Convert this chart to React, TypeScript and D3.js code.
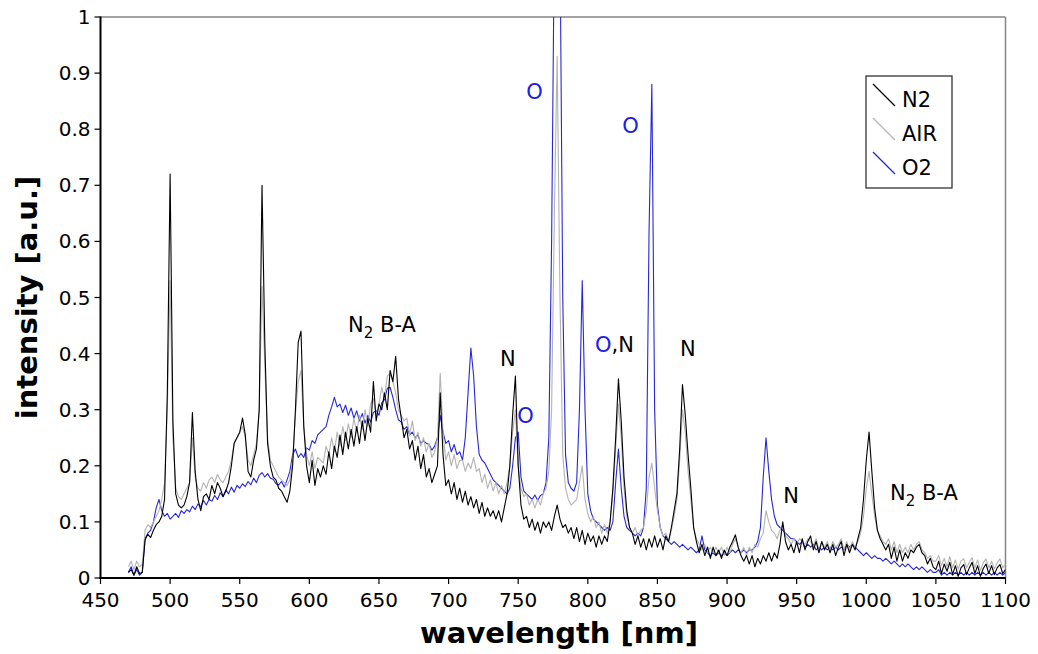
import React from 'react';
import * as d3 from 'd3';

const wavelengths = d3.range(470, 1101, 2);

const n2Values = [
  0.01, 0.015, 0.005, 0.02, 0.008, 0.01, 0.068, 0.078, 0.072, 0.085,
  0.095, 0.1, 0.11, 0.14, 0.33, 0.72, 0.28, 0.15, 0.13, 0.125,
  0.13, 0.145, 0.17, 0.295, 0.19, 0.14, 0.12, 0.145, 0.15, 0.14,
  0.165, 0.15, 0.17, 0.16, 0.145, 0.155, 0.17, 0.2, 0.24, 0.25,
  0.26, 0.285, 0.255, 0.19, 0.18, 0.21, 0.23, 0.3, 0.70, 0.42,
  0.24, 0.2, 0.18, 0.175, 0.16, 0.155, 0.145, 0.135, 0.155, 0.2,
  0.3, 0.42, 0.44, 0.27, 0.2, 0.17, 0.21, 0.165, 0.195, 0.18,
  0.2, 0.185, 0.225, 0.195, 0.235, 0.215, 0.255, 0.22, 0.26, 0.23,
  0.265, 0.235, 0.27, 0.24, 0.28, 0.245, 0.285, 0.26, 0.35, 0.28,
  0.31, 0.3, 0.33, 0.3, 0.37, 0.35, 0.395, 0.32, 0.285, 0.25,
  0.265, 0.23, 0.245, 0.21, 0.235, 0.195, 0.22, 0.18, 0.195, 0.17,
  0.185, 0.2, 0.33, 0.22, 0.165, 0.175, 0.15, 0.17, 0.14, 0.16,
  0.135, 0.155, 0.13, 0.145, 0.125, 0.14, 0.115, 0.135, 0.11, 0.125,
  0.11, 0.12, 0.105, 0.12, 0.1, 0.125, 0.15, 0.2, 0.29, 0.36,
  0.2, 0.13, 0.105, 0.11, 0.09, 0.105, 0.085, 0.1, 0.08, 0.1,
  0.09, 0.1, 0.085, 0.11, 0.13, 0.105, 0.09, 0.095, 0.08, 0.09,
  0.07, 0.09, 0.065, 0.085, 0.06, 0.08, 0.065, 0.075, 0.055, 0.075,
  0.06, 0.075, 0.065, 0.1, 0.16, 0.25, 0.355, 0.28, 0.18, 0.12,
  0.09, 0.08, 0.06, 0.075, 0.055, 0.07, 0.05, 0.07, 0.055, 0.075,
  0.055, 0.07, 0.05, 0.075, 0.065, 0.09, 0.12, 0.15, 0.23, 0.345,
  0.29, 0.22, 0.16, 0.09, 0.065, 0.045, 0.06, 0.04, 0.055, 0.035,
  0.055, 0.04, 0.05, 0.035, 0.05, 0.04, 0.055, 0.065, 0.077, 0.055,
  0.04, 0.03, 0.04, 0.025, 0.04, 0.02, 0.035, 0.025, 0.04, 0.03,
  0.045, 0.03, 0.045, 0.035, 0.06, 0.1, 0.065, 0.05, 0.06, 0.045,
  0.065, 0.045, 0.07, 0.05, 0.065, 0.075, 0.05, 0.065, 0.045, 0.065,
  0.05, 0.06, 0.045, 0.06, 0.04, 0.055, 0.065, 0.04, 0.06, 0.045,
  0.06, 0.05, 0.07, 0.09, 0.14, 0.21, 0.26, 0.19, 0.125, 0.085,
  0.07, 0.06, 0.05, 0.06, 0.035, 0.055, 0.03, 0.05, 0.03, 0.045,
  0.035, 0.05, 0.045, 0.055, 0.06, 0.045, 0.04, 0.025, 0.035, 0.02,
  0.015, 0.03, 0.008, 0.025, 0.012, 0.028, 0.006, 0.022, 0.003, 0.018,
  0.024, 0.006, 0.018, 0.028, 0.008, 0.022, 0.003, 0.017, 0.025, 0.008,
  0.022, 0.006, 0.018, 0.024, 0.008, 0.015,
];

const airValues = [
  0.02, 0.03, 0.015, 0.03, 0.02, 0.025, 0.085, 0.095, 0.09, 0.1,
  0.11, 0.12, 0.14, 0.17, 0.3, 0.53, 0.25, 0.16, 0.145, 0.14,
  0.15, 0.16, 0.17, 0.25, 0.18, 0.16, 0.155, 0.17, 0.16, 0.175,
  0.18, 0.17, 0.185, 0.175, 0.17, 0.18, 0.19, 0.21, 0.24, 0.25,
  0.26, 0.27, 0.25, 0.21, 0.2, 0.22, 0.24, 0.3, 0.52, 0.38,
  0.25, 0.21, 0.2, 0.19, 0.18, 0.175, 0.17, 0.165, 0.175, 0.21,
  0.29, 0.35, 0.37, 0.27, 0.22, 0.2, 0.225, 0.195, 0.215, 0.21,
  0.205, 0.235, 0.22, 0.25, 0.225, 0.26, 0.235, 0.27, 0.245, 0.275,
  0.25, 0.285, 0.26, 0.29, 0.265, 0.3, 0.27, 0.31, 0.32, 0.29,
  0.31, 0.34, 0.32, 0.36, 0.365, 0.35, 0.33, 0.3, 0.29, 0.28,
  0.285, 0.255, 0.28, 0.245, 0.26, 0.235, 0.25, 0.225, 0.24, 0.215,
  0.225, 0.25, 0.365, 0.26, 0.21, 0.225, 0.2, 0.22, 0.195, 0.21,
  0.21, 0.19, 0.205, 0.195, 0.215, 0.19, 0.195, 0.17, 0.185, 0.16,
  0.175, 0.155, 0.17, 0.15, 0.165, 0.15, 0.17, 0.2, 0.26, 0.3,
  0.2, 0.16, 0.145, 0.15, 0.13, 0.14, 0.125, 0.14, 0.13, 0.15,
  0.16, 0.19, 0.3, 0.65, 0.93, 0.5, 0.22, 0.16, 0.14, 0.13,
  0.135, 0.14, 0.17, 0.2, 0.14, 0.115, 0.1, 0.11, 0.09, 0.1,
  0.08, 0.095, 0.08, 0.1, 0.15, 0.23, 0.31, 0.25, 0.16, 0.11,
  0.09, 0.08, 0.09, 0.075, 0.085, 0.09, 0.12, 0.18, 0.205, 0.16,
  0.12, 0.09, 0.075, 0.08, 0.065, 0.085, 0.11, 0.14, 0.21, 0.3,
  0.26, 0.19, 0.14, 0.09, 0.07, 0.06, 0.05, 0.06, 0.045, 0.055,
  0.045, 0.055, 0.045, 0.055, 0.04, 0.055, 0.045, 0.06, 0.07, 0.055,
  0.045, 0.055, 0.04, 0.055, 0.045, 0.06, 0.055, 0.07, 0.08, 0.12,
  0.1, 0.085, 0.08, 0.07, 0.085, 0.095, 0.075, 0.07, 0.06, 0.07,
  0.06, 0.07, 0.065, 0.06, 0.07, 0.065, 0.055, 0.07, 0.05, 0.065,
  0.055, 0.065, 0.05, 0.065, 0.055, 0.06, 0.07, 0.05, 0.065, 0.05,
  0.065, 0.055, 0.065, 0.08, 0.11, 0.16, 0.19, 0.15, 0.11, 0.085,
  0.075, 0.065, 0.06, 0.07, 0.05, 0.065, 0.045, 0.06, 0.045, 0.055,
  0.045, 0.06, 0.05, 0.06, 0.065, 0.05, 0.045, 0.035, 0.04, 0.03,
  0.03, 0.04, 0.022, 0.035, 0.02, 0.038, 0.018, 0.032, 0.016, 0.03,
  0.034, 0.018, 0.028, 0.036, 0.018, 0.032, 0.014, 0.027, 0.034, 0.018,
  0.03, 0.016, 0.027, 0.034, 0.018, 0.025,
];

const o2Values = [
  0.01, 0.02, 0.005, 0.015, 0.005, 0.01, 0.07, 0.08, 0.085, 0.1,
  0.125, 0.14, 0.12, 0.11, 0.115, 0.105, 0.11, 0.115, 0.108, 0.12,
  0.115, 0.122, 0.118, 0.128, 0.122, 0.132, 0.127, 0.138, 0.13, 0.14,
  0.137, 0.147, 0.14, 0.152, 0.145, 0.157, 0.15, 0.162, 0.153, 0.165,
  0.16, 0.168, 0.163, 0.172, 0.166, 0.178, 0.17, 0.183, 0.188, 0.18,
  0.186, 0.178, 0.176, 0.168, 0.166, 0.172, 0.162, 0.175, 0.19, 0.22,
  0.23, 0.215, 0.222, 0.215, 0.232, 0.228, 0.245, 0.24, 0.255, 0.26,
  0.265, 0.27, 0.29, 0.305, 0.322, 0.305, 0.31, 0.295, 0.308, 0.29,
  0.303, 0.285, 0.298, 0.28, 0.293, 0.276, 0.29, 0.278, 0.295, 0.298,
  0.29, 0.312, 0.318, 0.338, 0.34, 0.322, 0.3, 0.282, 0.278, 0.265,
  0.27, 0.255, 0.26, 0.25, 0.255, 0.24, 0.245, 0.24, 0.238, 0.228,
  0.235, 0.25, 0.29, 0.26, 0.24, 0.245, 0.225, 0.238, 0.22, 0.225,
  0.21, 0.25, 0.33, 0.41, 0.36, 0.27, 0.22, 0.21, 0.205, 0.195,
  0.185, 0.175, 0.17, 0.165, 0.16, 0.155, 0.15, 0.16, 0.2, 0.25,
  0.26, 0.18, 0.155, 0.15, 0.145, 0.14, 0.148, 0.138, 0.147, 0.15,
  0.17, 0.25, 0.6, 1.15, 1.4, 1.15, 0.5, 0.22, 0.17, 0.16,
  0.155, 0.17, 0.3, 0.53, 0.3, 0.15, 0.12, 0.105, 0.1, 0.095,
  0.09, 0.085, 0.09, 0.085, 0.1, 0.17, 0.23, 0.16, 0.11, 0.09,
  0.085, 0.08, 0.075, 0.08, 0.075, 0.09, 0.16, 0.62, 0.88, 0.3,
  0.13, 0.09, 0.075, 0.07, 0.065, 0.06, 0.065, 0.06, 0.055, 0.06,
  0.055, 0.05, 0.055, 0.05, 0.045, 0.05, 0.075, 0.05, 0.045, 0.04,
  0.045, 0.04, 0.045, 0.04, 0.045, 0.04, 0.045, 0.05, 0.045, 0.05,
  0.045, 0.05, 0.045, 0.05, 0.05, 0.055, 0.065, 0.09, 0.18, 0.25,
  0.19, 0.14, 0.11, 0.095, 0.09, 0.085, 0.08, 0.075, 0.07, 0.07,
  0.065, 0.06, 0.065, 0.055, 0.06, 0.055, 0.06, 0.05, 0.055, 0.05,
  0.055, 0.05, 0.055, 0.05, 0.055, 0.05, 0.055, 0.05, 0.06, 0.055,
  0.06, 0.055, 0.05, 0.045, 0.04, 0.045, 0.04, 0.035, 0.04, 0.035,
  0.035, 0.03, 0.035, 0.03, 0.025, 0.03, 0.025, 0.02, 0.025, 0.02,
  0.025, 0.02, 0.015, 0.02, 0.015, 0.02, 0.015, 0.01, 0.015, 0.01,
  0.01, 0.015, 0.005, 0.01, 0.005, 0.01, 0.005, 0.01, 0.005, 0.01,
  0.005, 0.01, 0.005, 0.01, 0.005, 0.01, 0.005, 0.01, 0.005, 0.01,
  0.005, 0.01, 0.005, 0.01, 0.005, 0.01,
];

const seriesNames = ['N2', 'AIR', 'O2'];
const seriesColors = ['#000000', '#b3b3b3', '#2626dc'];

const xTicks = [450, 500, 550, 600, 650, 700, 750, 800, 850, 900, 950, 1000, 1050, 1100];
const yTicks = [0, 0.1, 0.2, 0.3, 0.4, 0.5, 0.6, 0.7, 0.8, 0.9, 1];
const yTickLabels = ['0', '0.1', '0.2', '0.3', '0.4', '0.5', '0.6', '0.7', '0.8', '0.9', '1'];

// peak annotations: label, wavelength (nm), intensity at text baseline
const peakLabels = [
  { text: 'N', nm: 737, val: 0.378, color: '#000' },
  { text: 'O', nm: 749.3, val: 0.277, color: '#1c1ce6' },
  { text: 'O', nm: 755.8, val: 0.854, color: '#1c1ce6' },
  { text: 'O', nm: 824.7, val: 0.794, color: '#1c1ce6' },
  { text: 'N', nm: 866.3, val: 0.395, color: '#000' },
  { text: 'N', nm: 940.3, val: 0.134, color: '#000' },
];
const bandLabels = [
  { nm: 627.8, val: 0.439 },
  { nm: 1017, val: 0.139 },
];
const mixedLabel = { nm: 805.2, val: 0.403 };

const W = 1038;
const H = 654;
const font = '"DejaVu Sans", Verdana, sans-serif';

export default function App() {
  const xScale = d3.scaleLinear().domain([450, 1100]).range([100.5, 1005.5]);
  const yScale = d3.scaleLinear().domain([0, 1]).range([578, 17]);

  const series = [n2Values, airValues, o2Values];

  const lineGen = d3.line<number>()
    .x((d, i) => xScale(wavelengths[i]))
    .y(d => yScale(d));

  // draw O2 first, then AIR, N2 on top
  const drawOrder = [2, 1, 0];

  return (
    <svg width={W} height={H} style={{ position: 'absolute', left: 0, top: 0, background: '#fff' }}>
      <defs>
        <clipPath id="plotClip">
          <rect x={xScale(450)} y={yScale(1)} width={xScale(1100) - xScale(450)} height={yScale(0) - yScale(1)} />
        </clipPath>
      </defs>

      {/* frame: grey top/right */}
      <line x1={xScale(450)} x2={xScale(1100)} y1={yScale(1)} y2={yScale(1)} stroke="#858585" strokeWidth={1.5} />
      <line x1={xScale(1100)} x2={xScale(1100)} y1={yScale(1)} y2={yScale(0)} stroke="#858585" strokeWidth={1.5} />

      {/* SPECTRA */}
      <g clipPath="url(#plotClip)">
        {drawOrder.map(k => (
          <path key={seriesNames[k]} d={lineGen(series[k]) || ''} fill="none" stroke={seriesColors[k]} strokeWidth={1.1} strokeLinejoin="round" />
        ))}
      </g>

      {/* AXES */}
      <line x1={xScale(450)} x2={xScale(450)} y1={yScale(1) - 0.5} y2={yScale(0) + 1} stroke="#000" strokeWidth={2} />
      <line x1={xScale(450) - 1} x2={xScale(1100) + 0.5} y1={yScale(0)} y2={yScale(0)} stroke="#000" strokeWidth={2} />

      {yTicks.map((t, i) => (
        <g key={'y' + t}>
          <line x1={xScale(450) - 6} x2={xScale(450)} y1={yScale(t)} y2={yScale(t)} stroke="#000" strokeWidth={1.2} />
          <text x={xScale(450) - 10} y={yScale(t) + 7} textAnchor="end" fontFamily={font} fontSize={20} fill="#000">{yTickLabels[i]}</text>
        </g>
      ))}
      {xTicks.map(t => (
        <g key={'x' + t}>
          <line x1={xScale(t)} x2={xScale(t)} y1={yScale(0)} y2={yScale(0) + 6} stroke="#000" strokeWidth={1.2} />
          <text x={xScale(t)} y={607} textAnchor="middle" fontFamily={font} fontSize={20} fill="#000">{t}</text>
        </g>
      ))}

      <text x={(xScale(450) + xScale(1100)) / 2 + 6} y={643} textAnchor="middle" fontFamily={font} fontSize={29} fontWeight="bold" fill="#000">wavelength [nm]</text>
      <text transform={`translate(37, ${(yScale(0) + yScale(1)) / 2}) rotate(-90)`} textAnchor="middle" fontFamily={font} fontSize={29} fontWeight="bold" fill="#000">intensity [a.u.]</text>

      {/* ANNOTATIONS */}
      {peakLabels.map((l, i) => (
        <text key={'pl' + i} x={xScale(l.nm)} y={yScale(l.val)} fontFamily={font} fontSize={21} fill={l.color}>{l.text}</text>
      ))}
      {bandLabels.map((l, i) => (
        <text key={'bl' + i} x={xScale(l.nm)} y={yScale(l.val)} fontFamily={font} fontSize={21} fill="#000">
          N<tspan fontSize={15} dy={6}>2</tspan><tspan dy={-6}> B-A</tspan>
        </text>
      ))}
      <text x={xScale(mixedLabel.nm)} y={yScale(mixedLabel.val)} fontFamily={font} fontSize={21}>
        <tspan fill="#1c1ce6">O</tspan><tspan fill="#000">,N</tspan>
      </text>

      {/* LEGEND */}
      <g transform="translate(866, 76)">
        <rect x={0} y={0} width={86} height={112} fill="#fff" stroke="#222" strokeWidth={1.2} />
        {seriesNames.map((name, i) => (
          <g key={name} transform={`translate(0, ${i * 34})`}>
            <line x1={7} y1={8} x2={29} y2={30} stroke={seriesColors[i]} strokeWidth={1.2} />
            <text x={36} y={31} fontFamily={font} fontSize={21} fill="#000">{name}</text>
          </g>
        ))}
      </g>
    </svg>
  );
}
